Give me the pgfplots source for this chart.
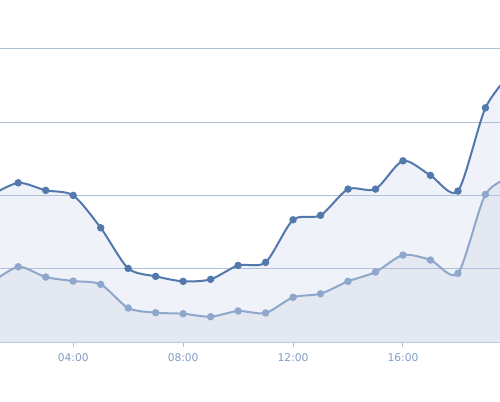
\documentclass[border=0pt]{standalone}
\usepackage{fontspec}
\setmainfont{DejaVu Sans}
\usepackage{pgfplots}
\pgfplotsset{compat=1.18}
\definecolor{darkline}{RGB}{82,120,172}
\definecolor{lightline}{RGB}{143,167,203}
\definecolor{fillA}{RGB}{239,242,248}
\definecolor{fillB}{RGB}{227,232,241}
\definecolor{gridc}{RGB}{176,192,214}
\definecolor{labc}{RGB}{128,155,196}
\begin{document}
\begin{tikzpicture}
\useasboundingbox (0pt,-44.25pt) rectangle (375pt,256.5pt);
\begin{axis}[
  at={(0pt,0pt)}, anchor=south west,
  scale only axis, width=375pt, height=256.5pt,
  xmin=1.336, xmax=19.53, ymin=0, ymax=466.8,
  clip=true,
  axis x line*=bottom, axis y line=none,
  x axis line style={draw=gridc, line width=0.9pt, -},
  xtick={4,8,12,16,20},
  xticklabels={04:00,08:00,12:00,16:00,20:00},
  xticklabel style={font=\fontsize{8}{9}\selectfont, text=labc, yshift=-2pt},
  x tick style={draw=gridc, line width=0.75pt},
  tick align=outside, major tick length=3.5pt,
  ytick=\empty,
]
\addplot[draw=none, fill=fillA, smooth, tension=0.45] coordinates {
 (1,200) (2,217.3) (3,207.0) (4,200.1) (5,155.9) (6,100.5) (7,89.6) (8,82.8) (9,85.5) (10,104.6) (11,108.7) (12,166.8) (13,172.9) (14,208.7) (15,208.7) (16,247.3) (17,227.4) (18,206.0) (19,319.6) (20,370)
} \closedcycle;
\addplot[draw=none, fill=fillB, smooth, tension=0.45] coordinates {
 (1,80) (2,102.7) (3,88.7) (4,83.2) (5,78.7) (6,46.4) (7,40.0) (8,38.6) (9,34.5) (10,42.3) (11,39.6) (12,61.0) (13,65.9) (14,82.8) (15,95.5) (16,118.7) (17,111.9) (18,93.7) (19,201.5) (20,226)
} \closedcycle;
\pgfplotsinvokeforeach{100,200,300,400}{
  \draw[gridc, line width=0.75pt] (axis cs:1.336,#1) -- (axis cs:19.53,#1);
}
\addplot[draw=lightline, line width=1.5pt, smooth, tension=0.45, mark=*, mark size=2pt, mark options={fill=lightline, draw=lightline}] coordinates {
 (1,80) (2,102.7) (3,88.7) (4,83.2) (5,78.7) (6,46.4) (7,40.0) (8,38.6) (9,34.5) (10,42.3) (11,39.6) (12,61.0) (13,65.9) (14,82.8) (15,95.5) (16,118.7) (17,111.9) (18,93.7) (19,201.5) (20,226)
};
\addplot[draw=darkline, line width=1.5pt, smooth, tension=0.45, mark=*, mark size=2pt, mark options={fill=darkline, draw=darkline}] coordinates {
 (1,200) (2,217.3) (3,207.0) (4,200.1) (5,155.9) (6,100.5) (7,89.6) (8,82.8) (9,85.5) (10,104.6) (11,108.7) (12,166.8) (13,172.9) (14,208.7) (15,208.7) (16,247.3) (17,227.4) (18,206.0) (19,319.6) (20,370)
};
\end{axis}
\end{tikzpicture}
\end{document}
